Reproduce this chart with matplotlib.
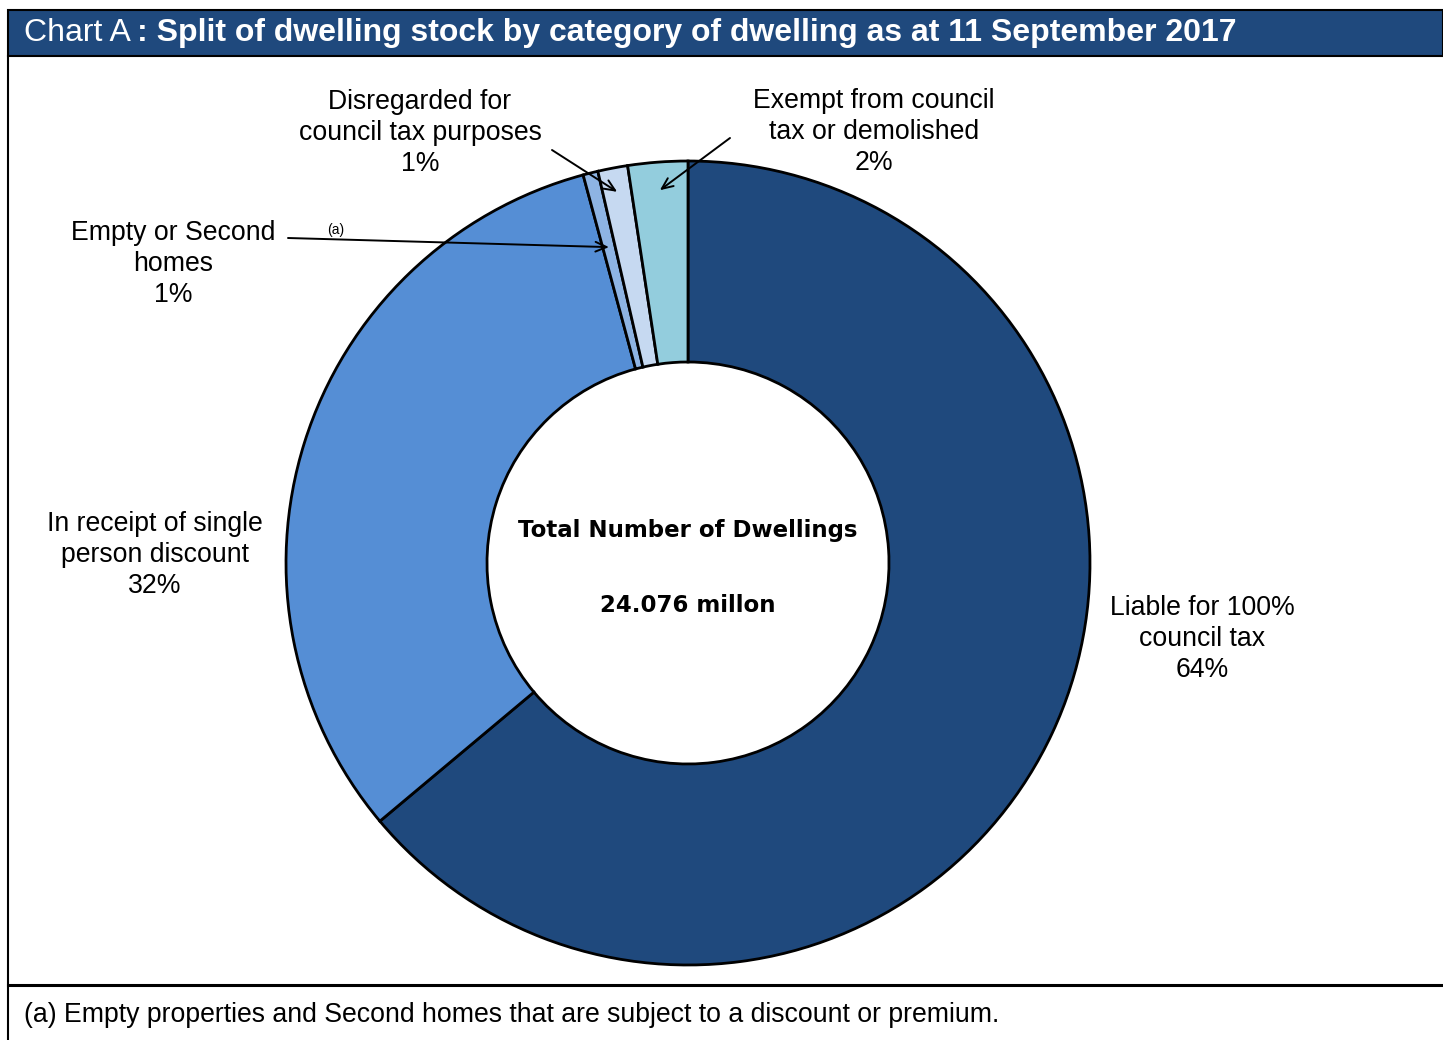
import matplotlib.pyplot as plt
import matplotlib.patches as mpatches
import numpy as np

# data (share of dwelling stock, %)
categories = ['Liable for 100%\ncouncil tax',
              'In receipt of single\nperson discount',
              'Empty or Second\nhomes',
              'Disregarded for\ncouncil tax purposes',
              'Exempt from council\ntax or demolished']
shares = [63.9, 31.9, 0.6, 1.2, 2.4]
pct_labels = ['64%', '32%', '1%', '1%', '2%']
colors = ['#1F497D', '#558ED5', '#8EB4E3', '#C6D9F1', '#93CDDD']

W, H = 1443, 1040
fig = plt.figure(figsize=(W / 100, H / 100), dpi=100)
fig.patch.set_facecolor('white')

# donut
cx, cy, r = 688, 563, 404
ax = fig.add_axes([(cx - r) / W, (H - cy - r) / H, 2 * r / W, 2 * r / H])
wedges, _ = ax.pie(shares, colors=colors, startangle=90, counterclock=False,
                   radius=1.0,
                   wedgeprops=dict(width=0.5, edgecolor='black', linewidth=2))
ax.set_xlim(-1.005, 1.005)
ax.set_ylim(-1.005, 1.005)
ax.set_aspect('equal')
ax.axis('off')

# overlay in pixel coords (y down)
ov = fig.add_axes([0, 0, 1, 1])
ov.set_xlim(0, W)
ov.set_ylim(H, 0)
ov.axis('off')
ov.patch.set_alpha(0)

# title bar
ov.add_patch(mpatches.Rectangle((8, 10), W - 8, 46, facecolor='#1F497D',
                                edgecolor='black', linewidth=1.5, clip_on=False))
t1 = ov.text(24, 33, 'Chart A', color='white', fontsize=23,
             family='Liberation Sans', va='center', ha='left')
fig.canvas.draw()
bb = t1.get_window_extent()
x_next = ov.transData.inverted().transform((bb.x1, 0))[0]
ov.text(x_next + 6, 33, ': Split of dwelling stock by category of dwelling as at 11 September 2017',
        color='white', fontsize=23, fontweight='bold', family='Liberation Sans',
        va='center', ha='left')
# box lines
ov.plot([8, 8], [56, H], color='black', lw=1.5, clip_on=False)
ov.plot([8, W], [985, 985], color='black', lw=2.2, clip_on=False)
ov.text(24, 1015, '(a) Empty properties and Second homes that are subject to a discount or premium.',
        fontsize=19.2, family='Liberation Sans', va='center', ha='left')

# centre text
ov.text(cx, 530, 'Total Number of Dwellings', fontsize=16.5, fontweight='bold',
        family='DejaVu Sans', ha='center', va='center')
ov.text(cx, 605, '24.076 millon', fontsize=16.5, fontweight='bold',
        family='DejaVu Sans', ha='center', va='center')

# labels
lab_pos = [(1202, 639), (155, 555), (173, 264), (420, 133), (874, 132)]
for (lx, ly), cat, p in zip(lab_pos, categories, pct_labels):
    ov.text(lx, ly, cat + '\n' + p, fontsize=19.2, family='Liberation Sans',
            ha='center', va='center', linespacing=1.26)
ov.text(336, 230, '(a)', fontsize=10, family='Liberation Sans', ha='center', va='center')

# arrows to small wedges
def wedge_point(w, rad):
    ang = np.deg2rad((w.theta1 + w.theta2) / 2)
    return rad * np.cos(ang), rad * np.sin(ang)

arrow_src = {2: ((288, 238), 0.81), 3: ((552, 150), 0.94), 4: ((730, 138), 0.93)}
for i, ((sx, sy), rad) in arrow_src.items():
    ax.annotate('', xy=wedge_point(wedges[i], rad), xycoords='data',
                xytext=(sx, H - sy), textcoords='figure pixels',
                arrowprops=dict(arrowstyle='->,head_length=0.8,head_width=0.35',
                                color='black', lw=1.4, shrinkA=0, shrinkB=0),
                annotation_clip=False)

fig.savefig('out.png', dpi=100)
